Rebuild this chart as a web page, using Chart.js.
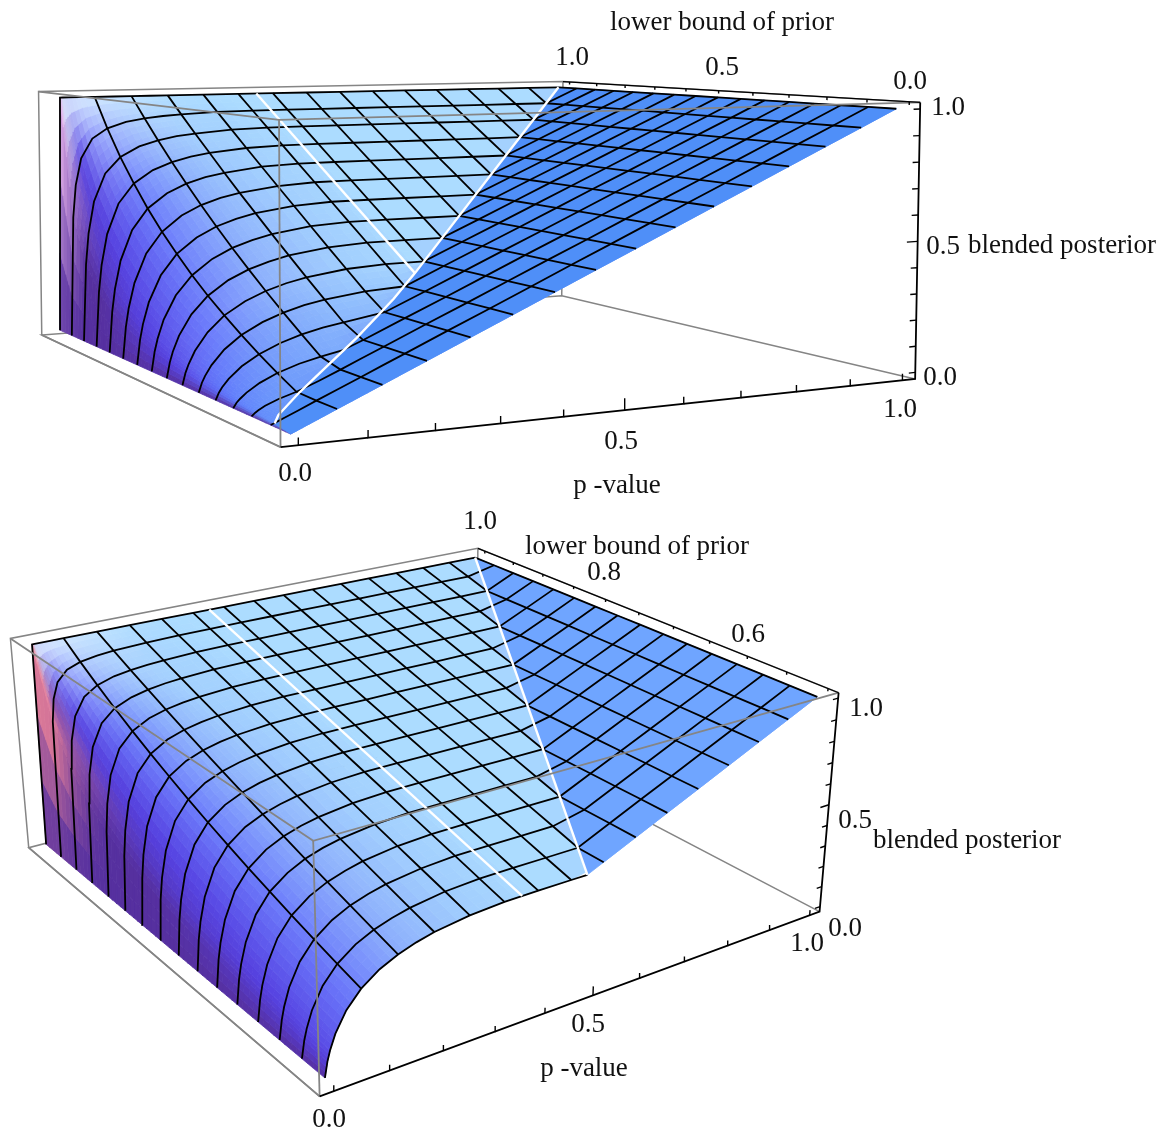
<!DOCTYPE html>
<html>
<head>
<meta charset="utf-8">
<title>blended posterior</title>
<style>
  html, body { margin: 0; padding: 0; background: #fff; }
  canvas { display: block; }
</style>
<script src="https://cdn.jsdelivr.net/npm/chart.js@4"></script>
</head>
<body>
<canvas id="top" width="1162" height="505"></canvas>
<canvas id="bottom" width="1162" height="628"></canvas>
<script>
"use strict";

// p-value nodes, one column of the tables below each
const pNodes = [0, 0.005, 0.01, 0.02, 0.04, 0.0667, 0.1, 0.1333, 0.1667, 0.2, 0.2667, 0.3333, 0.4, 0.4667, 0.5333, 0.6, 0.6667, 0.7333, 0.8, 0.8667, 0.9333, 1];

// the nodes that carry a mesh line
const meshP = [0.0667, 0.1333, 0.2, 0.2667, 0.3333, 0.4, 0.4667, 0.5333, 0.6, 0.6667, 0.7333, 0.8, 0.8667, 0.9333, 1];

// lower bound of prior, one row each
const priorsTop = [0, 0.0667, 0.1333, 0.2, 0.2667, 0.3333, 0.4, 0.4667, 0.5333, 0.6, 0.6667, 0.7333, 0.8, 0.8667, 0.9333, 1];
const priorsBottom = [0.5, 0.5333, 0.5667, 0.6, 0.6333, 0.6667, 0.7, 0.7333, 0.7667, 0.8, 0.8333, 0.8667, 0.9, 0.9333, 0.9667, 1];

const posteriorTop = [
  [0, 0.005, 0.01, 0.02, 0.04, 0.067, 0.1, 0.133, 0.167, 0.2, 0.267, 0.333, 0.4, 0.467, 0.533, 0.6, 0.667, 0.733, 0.8, 0.867, 0.933, 1],
  [0, 0.005, 0.01, 0.02, 0.04, 0.067, 0.1, 0.133, 0.167, 0.2, 0.267, 0.333, 0.4, 0.467, 0.533, 0.6, 0.667, 0.733, 0.8, 0.867, 0.933, 1],
  [0, 0.011, 0.019, 0.032, 0.051, 0.07, 0.1, 0.133, 0.167, 0.2, 0.267, 0.333, 0.4, 0.467, 0.533, 0.6, 0.667, 0.733, 0.8, 0.867, 0.933, 1],
  [0, 0.018, 0.03, 0.05, 0.08, 0.109, 0.135, 0.154, 0.169, 0.2, 0.267, 0.333, 0.4, 0.467, 0.533, 0.6, 0.667, 0.733, 0.8, 0.867, 0.933, 1],
  [0, 0.026, 0.044, 0.072, 0.113, 0.151, 0.185, 0.21, 0.228, 0.241, 0.267, 0.333, 0.4, 0.467, 0.533, 0.6, 0.667, 0.733, 0.8, 0.867, 0.933, 1],
  [0, 0.035, 0.059, 0.096, 0.149, 0.197, 0.238, 0.267, 0.289, 0.304, 0.324, 0.333, 0.4, 0.467, 0.533, 0.6, 0.667, 0.733, 0.8, 0.867, 0.933, 1],
  [0, 0.046, 0.077, 0.124, 0.189, 0.247, 0.294, 0.327, 0.351, 0.368, 0.39, 0.399, 0.4, 0.467, 0.533, 0.6, 0.667, 0.733, 0.8, 0.867, 0.933, 1],
  [0, 0.059, 0.099, 0.157, 0.234, 0.3, 0.354, 0.39, 0.415, 0.434, 0.456, 0.466, 0.467, 0.467, 0.533, 0.6, 0.667, 0.733, 0.8, 0.867, 0.933, 1],
  [0, 0.076, 0.125, 0.196, 0.286, 0.359, 0.417, 0.455, 0.481, 0.5, 0.523, 0.532, 0.533, 0.533, 0.533, 0.6, 0.667, 0.733, 0.8, 0.867, 0.933, 1],
  [0, 0.097, 0.158, 0.242, 0.344, 0.424, 0.484, 0.523, 0.549, 0.568, 0.59, 0.599, 0.6, 0.6, 0.6, 0.6, 0.667, 0.733, 0.8, 0.867, 0.933, 1],
  [0, 0.126, 0.2, 0.298, 0.412, 0.495, 0.556, 0.594, 0.619, 0.636, 0.657, 0.666, 0.667, 0.667, 0.667, 0.667, 0.667, 0.733, 0.8, 0.867, 0.933, 1],
  [0, 0.165, 0.256, 0.369, 0.49, 0.574, 0.632, 0.668, 0.691, 0.706, 0.725, 0.732, 0.733, 0.733, 0.733, 0.733, 0.733, 0.733, 0.8, 0.867, 0.933, 1],
  [0, 0.224, 0.334, 0.46, 0.583, 0.663, 0.715, 0.745, 0.765, 0.778, 0.793, 0.799, 0.8, 0.8, 0.8, 0.8, 0.8, 0.8, 0.8, 0.867, 0.933, 1],
  [0, 0.319, 0.449, 0.58, 0.695, 0.761, 0.803, 0.826, 0.841, 0.85, 0.862, 0.866, 0.867, 0.867, 0.867, 0.867, 0.867, 0.867, 0.867, 0.867, 0.933, 1],
  [0, 0.502, 0.637, 0.749, 0.831, 0.873, 0.898, 0.911, 0.919, 0.924, 0.931, 0.933, 0.933, 0.933, 0.933, 0.933, 0.933, 0.933, 0.933, 0.933, 0.933, 1],
  [0, 1, 1, 1, 1, 1, 1, 1, 1, 1, 1, 1, 1, 1, 1, 1, 1, 1, 1, 1, 1, 1],
];

const posteriorBottom = [
  [0, 0.067, 0.111, 0.175, 0.259, 0.329, 0.385, 0.422, 0.448, 0.467, 0.489, 0.499, 0.5, 0.5, 0.533, 0.6, 0.667, 0.733, 0.8, 0.867, 0.933, 1],
  [0, 0.076, 0.125, 0.196, 0.286, 0.359, 0.417, 0.455, 0.481, 0.5, 0.523, 0.532, 0.533, 0.533, 0.533, 0.6, 0.667, 0.733, 0.8, 0.867, 0.933, 1],
  [0, 0.086, 0.141, 0.218, 0.314, 0.391, 0.45, 0.489, 0.515, 0.534, 0.556, 0.566, 0.567, 0.567, 0.567, 0.6, 0.667, 0.733, 0.8, 0.867, 0.933, 1],
  [0, 0.097, 0.158, 0.242, 0.344, 0.424, 0.484, 0.523, 0.549, 0.568, 0.59, 0.599, 0.6, 0.6, 0.6, 0.6, 0.667, 0.733, 0.8, 0.867, 0.933, 1],
  [0, 0.111, 0.178, 0.269, 0.377, 0.459, 0.519, 0.558, 0.584, 0.602, 0.623, 0.632, 0.633, 0.633, 0.633, 0.633, 0.667, 0.733, 0.8, 0.867, 0.933, 1],
  [0, 0.126, 0.2, 0.298, 0.412, 0.495, 0.556, 0.594, 0.619, 0.636, 0.657, 0.666, 0.667, 0.667, 0.667, 0.667, 0.667, 0.733, 0.8, 0.867, 0.933, 1],
  [0, 0.144, 0.226, 0.332, 0.45, 0.534, 0.594, 0.63, 0.654, 0.671, 0.691, 0.699, 0.7, 0.7, 0.7, 0.7, 0.7, 0.733, 0.8, 0.867, 0.933, 1],
  [0, 0.165, 0.256, 0.369, 0.49, 0.574, 0.632, 0.668, 0.691, 0.706, 0.725, 0.732, 0.733, 0.733, 0.733, 0.733, 0.733, 0.733, 0.8, 0.867, 0.933, 1],
  [0, 0.191, 0.291, 0.411, 0.535, 0.617, 0.673, 0.706, 0.727, 0.742, 0.759, 0.766, 0.767, 0.767, 0.767, 0.767, 0.767, 0.767, 0.8, 0.867, 0.933, 1],
  [0, 0.224, 0.334, 0.46, 0.583, 0.663, 0.715, 0.745, 0.765, 0.778, 0.793, 0.799, 0.8, 0.8, 0.8, 0.8, 0.8, 0.8, 0.8, 0.867, 0.933, 1],
  [0, 0.265, 0.385, 0.515, 0.636, 0.71, 0.758, 0.785, 0.802, 0.814, 0.827, 0.833, 0.833, 0.833, 0.833, 0.833, 0.833, 0.833, 0.833, 0.867, 0.933, 1],
  [0, 0.319, 0.449, 0.58, 0.695, 0.761, 0.803, 0.826, 0.841, 0.85, 0.862, 0.866, 0.867, 0.867, 0.867, 0.867, 0.867, 0.867, 0.867, 0.867, 0.933, 1],
  [0, 0.393, 0.53, 0.657, 0.759, 0.815, 0.849, 0.868, 0.88, 0.887, 0.896, 0.9, 0.9, 0.9, 0.9, 0.9, 0.9, 0.9, 0.9, 0.9, 0.933, 1],
  [0, 0.502, 0.637, 0.749, 0.831, 0.873, 0.898, 0.911, 0.919, 0.924, 0.931, 0.933, 0.933, 0.933, 0.933, 0.933, 0.933, 0.933, 0.933, 0.933, 0.933, 1],
  [0, 0.676, 0.784, 0.86, 0.91, 0.934, 0.948, 0.955, 0.959, 0.962, 0.965, 0.966, 0.967, 0.967, 0.967, 0.967, 0.967, 0.967, 0.967, 0.967, 0.967, 1],
  [0, 1, 1, 1, 1, 1, 1, 1, 1, 1, 1, 1, 1, 1, 1, 1, 1, 1, 1, 1, 1, 1],
];

// where the surface creases: p and prior along each white line
const creasePTop = [0.005, 0.02, 0.0667, 0.1, 0.2, 0.3, 0.368, 1];
const creaseQTop = [0.065, 0.0875, 0.127, 0.151, 0.222, 0.304, 0.368, 1];
const creasePBottom = [0.5, 1];
const creaseQBottom = [0.5, 1];
const shoulderP = 0.368;

const pTicks = [0, 0.1, 0.2, 0.3, 0.4, 0.5, 0.6, 0.7, 0.8, 0.9, 1];
const zTicks = [0, 0.1, 0.2, 0.3, 0.4, 0.5, 0.6, 0.7, 0.8, 0.9, 1];
const qTicksTop = [0, 0.1, 0.2, 0.3, 0.4, 0.5, 0.6, 0.7, 0.8, 0.9, 1];
const qTicksBottom = [0.5, 0.55, 0.6, 0.65, 0.7, 0.75, 0.8, 0.85, 0.9, 0.95, 1];

const PAD = 0.025;
const GREY = "#858585";

const stops = [
  [-1.5, [172, 220, 255]],
  [-0.5, [162, 207, 254]],
  [0, [141, 176, 252]],
  [0.54, [106, 120, 251]],
  [1.08, [85, 64, 224]],
  [1.6, [86, 48, 159]],
];

// page position of the eight box corners, [u, v, w]
const cubeCorners = [[0, 0, 0], [1, 0, 0], [0, 1, 0], [1, 1, 0], [0, 0, 1], [1, 0, 1], [0, 1, 1], [1, 1, 1]];

function solveCamera(pagePoints) {
  const rows = [];
  const rhs = [];
  cubeCorners.forEach(function (c, i) {
    const x = pagePoints[i][0] / 1000;
    const y = pagePoints[i][1] / 1000;
    rows.push([c[0], c[1], c[2], 1, 0, 0, 0, 0, -x * c[0], -x * c[1], -x * c[2]]);
    rhs.push(x);
    rows.push([0, 0, 0, 0, c[0], c[1], c[2], 1, -y * c[0], -y * c[1], -y * c[2]]);
    rhs.push(y);
  });
  // normal equations, then plain elimination
  const n = 11;
  const a = [];
  for (let i = 0; i < n; i++) {
    a.push(new Array(n + 1).fill(0));
    for (let j = 0; j < n; j++) {
      for (let r = 0; r < rows.length; r++) a[i][j] += rows[r][i] * rows[r][j];
    }
    for (let r = 0; r < rows.length; r++) a[i][n] += rows[r][i] * rhs[r];
  }
  for (let i = 0; i < n; i++) {
    let best = i;
    for (let r = i + 1; r < n; r++) if (Math.abs(a[r][i]) > Math.abs(a[best][i])) best = r;
    const tmp = a[i]; a[i] = a[best]; a[best] = tmp;
    for (let r = 0; r < n; r++) {
      if (r === i) continue;
      const f = a[r][i] / a[i][i];
      for (let c = i; c <= n; c++) a[r][c] -= f * a[i][c];
    }
  }
  return a.map(function (row, i) { return row[n] / row[i]; });
}

function boxPoint(m, u, v, w) {
  const d = m[8] * u + m[9] * v + m[10] * w + 1;
  return {
    x: (1000 * (m[0] * u + m[1] * v + m[2] * w + m[3])) / d,
    y: (1000 * (m[4] * u + m[5] * v + m[6] * w + m[7])) / d,
  };
}

function mix(a, b, t) {
  return [a[0] + (b[0] - a[0]) * t, a[1] + (b[1] - a[1]) * t, a[2] + (b[2] - a[2]) * t];
}

function clamp01(t) {
  return Math.max(0, Math.min(1, t));
}

function slopeColor(logS) {
  if (logS <= stops[0][0]) return stops[0][1];
  for (let i = 1; i < stops.length; i++) {
    if (logS <= stops[i][0]) {
      return mix(stops[i - 1][1], stops[i][1], (logS - stops[i - 1][0]) / (stops[i][0] - stops[i - 1][0]));
    }
  }
  return stops[stops.length - 1][1];
}

function css(c) {
  return "rgb(" + Math.round(c[0]) + "," + Math.round(c[1]) + "," + Math.round(c[2]) + ")";
}

function polygon(points, color) {
  return {
    data: points.concat([points[0]]),
    showLine: true,
    fill: "shape",
    backgroundColor: color,
    borderColor: color,
    borderWidth: 0.8,
    pointRadius: 0,
    tension: 0,
  };
}

function polyline(points, color, width) {
  return {
    data: points,
    showLine: true,
    fill: false,
    borderColor: color,
    borderWidth: width,
    pointRadius: 0,
    tension: 0,
  };
}

function buildPanel(cfg) {
  const m = solveCamera(cfg.corners);
  const qs = cfg.priors;
  const zs = cfg.posterior;
  const qMin = qs[0];
  const qMax = qs[qs.length - 1];
  const scaled = function (t) { return (t + PAD) / (1 + 2 * PAD); };
  const proj = function (p, q, z) {
    return boxPoint(m, scaled(p), scaled((q - qMin) / (qMax - qMin)), scaled(z));
  };
  const box = function (u, v, w) { return boxPoint(m, u, v, w); };

  // colour of each table node, from how steep the surface is there
  const colors = zs.map(function (row, k) {
    return row.map(function (z, i) {
      let s;
      if (i === 0) {
        s = 60;
      } else {
        s = (z - row[i - 1]) / (pNodes[i] - pNodes[i - 1]);
      }
      const logS = Math.log10(Math.max(s, 0.001));
      let c = slopeColor(logS);
      c = mix(c, [70, 125, 250], 0.7 * clamp01(1 - qs[k] / 0.4) * clamp01(1.6 - logS));
      const pink = clamp01((z - 0.35) / 0.35) * clamp01((logS - 1.2) / 0.5);
      c = mix(c, cfg.pinkColor, pink);
      const white = 0.85 * clamp01((k - 11.5) / 3.5) * clamp01(1 - pNodes[i] / 0.22) * clamp01(1 - Math.abs(s) / 12);
      return mix(c, [232, 238, 255], white);
    });
  });

  const layers = [];

  // far side of the box
  layers.push(polyline([box(0, 0, 0), box(0, 1, 0), box(1, 1, 0), box(1, 0, 0)], GREY, 1.5));
  layers.push(polyline([box(0, 1, 0), box(0, 1, 1), box(1, 1, 1), box(1, 0, 1)], GREY, 1.5));
  layers.push(polyline([box(1, 1, 0), box(1, 1, 1)], GREY, 1.5));

  // surface cells, the steep ones cut finer so the shading runs smooth
  for (let k = 0; k < qs.length - 1; k++) {
    for (let i = 0; i < pNodes.length - 1; i++) {
      const nP = i < 12 ? 3 : 1;
      const nQ = i < 12 ? 4 : 1;
      for (let a = 0; a < nP; a++) {
        for (let b = 0; b < nQ; b++) {
          const corner = function (da, db) {
            const s = (a + da) / nP;
            const t = (b + db) / nQ;
            const z =
              zs[k][i] * (1 - s) * (1 - t) + zs[k][i + 1] * s * (1 - t) +
              zs[k + 1][i] * (1 - s) * t + zs[k + 1][i + 1] * s * t;
            return proj(pNodes[i] + (pNodes[i + 1] - pNodes[i]) * s, qs[k] + (qs[k + 1] - qs[k]) * t, z);
          };
          const s0 = (a + 0.5) / nP;
          const t0 = (b + 0.5) / nQ;
          const col = mix(
            mix(colors[k][i], colors[k][i + 1], s0),
            mix(colors[k + 1][i], colors[k + 1][i + 1], s0),
            t0
          );
          layers.push(polygon([corner(0, 0), corner(1, 0), corner(1, 1), corner(0, 1)], css(col)));
        }
      }
    }
  }

  // the plane where the posterior just equals p
  const crease = cfg.creaseP.map(function (p, i) { return proj(p, cfg.creaseQ[i], p); });
  const darkPoints = crease.concat([proj(1, qMin, 1)]);
  if (cfg.startsAtOrigin) darkPoints.push(proj(0, 0, 0));
  layers.push(polygon(darkPoints, cfg.planeColor));

  // mesh: lines of constant prior
  for (let k = cfg.firstRow; k < qs.length; k++) {
    const pts = [];
    pNodes.forEach(function (p, i) {
      if (k === 0 && p > 0.5) return;
      pts.push(proj(p, qs[k], zs[k][i]));
    });
    if (k === 0) pts.push(proj(0.5, qs[0], 0.5));
    layers.push(polyline(pts, "#000", 1.8));
  }
  // mesh: lines of constant p
  pNodes.forEach(function (p, i) {
    if (!meshP.includes(p)) return;
    layers.push(polyline(qs.map(function (q, k) { return proj(p, q, zs[k][i]); }), "#000", 1.8));
  });

  // white creases
  const creaseZ = cfg.shoulderFromQ;
  layers.push(polyline(crease, "#fff", 2.4));
  layers.push(polyline([proj(shoulderP, creaseZ, creaseZ), proj(shoulderP, 1, 1)], "#fff", 2.4));

  // near side of the box, over the surface
  layers.push(polyline([box(0, 1, 1), box(0, 0, 1), box(1, 0, 1)], GREY, 1.8));
  layers.push(polyline([box(0, 0, 1), box(0, 0, 0)], GREY, 1.8));
  layers.push(polyline([box(0, 1, 0), box(0, 0, 0)], GREY, 1.8));

  // axes with their ticks
  layers.push(polyline([box(0, 0, 0), box(1, 0, 0), box(1, 0, 1)], "#000", 1.8));
  layers.push(polyline([box(1, 1, 1), box(1, 0, 1)], "#000", 1.2));
  pTicks.forEach(function (p, i) {
    const len = i === 5 ? 0.04 : 0.024;
    layers.push(polyline([box(scaled(p), 0, 0), box(scaled(p), 0, len)], "#000", 1.4));
  });
  zTicks.forEach(function (z, i) {
    const len = i === 5 ? 0.02 : 0.012;
    layers.push(polyline([box(1, 0, scaled(z)), box(1 - len, 0, scaled(z))], "#000", 1.4));
  });
  cfg.qTicks.forEach(function (q) {
    const v = scaled((q - qMin) / (qMax - qMin));
    layers.push(polyline([box(1, v, 1), box(1, v, 0.988)], "#000", 1.4));
  });

  return layers.reverse();
}

const labelPlugin = {
  id: "panelLabels",
  afterDraw: function (chart, args, opts) {
    const ctx = chart.ctx;
    ctx.save();
    ctx.fillStyle = "#111";
    ctx.font = "27px 'Liberation Serif'";
    ctx.textAlign = "center";
    ctx.textBaseline = "middle";
    opts.items.forEach(function (item) {
      ctx.fillText(item[0], chart.scales.x.getPixelForValue(item[1]), chart.scales.y.getPixelForValue(item[2]));
    });
    ctx.restore();
  },
};

function drawPanel(canvasId, yMin, yMax, cfg) {
  const canvas = document.getElementById(canvasId);
  return new Chart(canvas, {
    type: "scatter",
    data: { datasets: buildPanel(cfg) },
    options: {
      responsive: false,
      animation: false,
      events: [],
      layout: { padding: 0 },
      scales: {
        x: { type: "linear", display: false, min: 0, max: 1162 },
        y: { type: "linear", display: false, min: yMin, max: yMax, reverse: true },
      },
      plugins: {
        legend: { display: false },
        tooltip: { enabled: false },
        panelLabels: { items: cfg.labels },
      },
    },
    plugins: [labelPlugin],
  });
}

drawPanel("top", 0, 505, {
  priors: priorsTop,
  posterior: posteriorTop,
  qTicks: qTicksTop,
  creaseP: creasePTop,
  creaseQ: creaseQTop,
  startsAtOrigin: true,
  shoulderFromQ: 0.368,
  firstRow: 1,
  planeColor: "#4f8ff8",
  pinkColor: [242, 190, 240],
  corners: [[280, 447], [915, 380], [42, 335], [562, 295], [280, 118], [920, 103], [38, 93], [563, 81]],
  labels: [
    ["lower bound of prior", 722, 23],
    ["1.0", 572, 58],
    ["0.5", 722, 68],
    ["0.0", 910, 82],
    ["1.0", 948, 108],
    ["0.5", 943, 247],
    ["blended posterior", 1062, 246],
    ["0.0", 940, 378],
    ["1.0", 900, 410],
    ["0.5", 621, 442],
    ["0.0", 295, 474],
    ["p -value", 617, 486],
  ],
});

drawPanel("bottom", 505, 1133, {
  priors: priorsBottom,
  posterior: posteriorBottom,
  qTicks: qTicksBottom,
  creaseP: creasePBottom,
  creaseQ: creaseQBottom,
  startsAtOrigin: false,
  shoulderFromQ: 0.5,
  firstRow: 0,
  planeColor: "#6fa5ff",
  pinkColor: [245, 135, 150],
  corners: [[320, 1097], [820, 910], [28, 845], [476, 735], [313, 843], [838, 692], [11, 639], [478, 547]],
  labels: [
    ["1.0", 480, 522],
    ["lower bound of prior", 637, 547],
    ["0.8", 604, 573],
    ["0.6", 748, 635],
    ["1.0", 866, 709],
    ["0.5", 855, 821],
    ["blended posterior", 967, 841],
    ["0.0", 845, 929],
    ["1.0", 807, 944],
    ["0.5", 588, 1025],
    ["p -value", 584, 1069],
    ["0.0", 329, 1120],
  ],
});
</script>
</body>
</html>
